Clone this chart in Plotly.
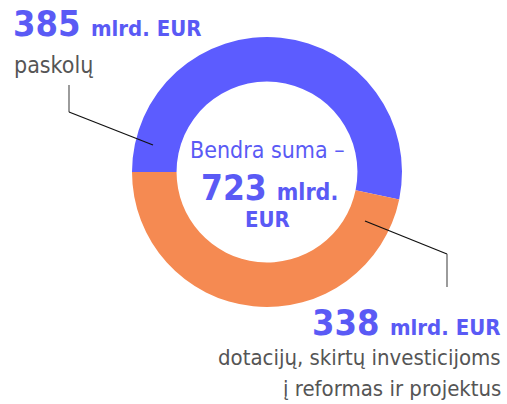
import plotly.graph_objects as go

# duomenys
labels = ["paskolų", "dotacijų, skirtų investicijoms į reformas ir projektus"]
values = [385, 338]
colors = ["#5C5CFF", "#F58A52"]
total = sum(values)

W, H = 507, 404
BLUE = "#5A5AF5"
GRAY = "#555555"
FONT = "Liberation Sans Narrow, DejaVu Sans Condensed, Roboto, sans-serif"


def px(x, y):
    # pikseliai -> paper koordinatės
    return x / W, 1 - y / H


fig = go.Figure(
    go.Pie(
        labels=labels,
        values=values,
        marker=dict(colors=colors, line=dict(width=0)),
        hole=0.67,
        sort=False,
        direction="clockwise",
        rotation=-90,
        textinfo="none",
        hoverinfo="label+value",
        showlegend=False,
        domain=dict(x=[132 / W, 402 / W], y=[97 / H, 367 / H]),
    )
)

annotations = []


def add_text(text, x, y, xanchor, size, color, align="left"):
    ax, ay = px(x, y)
    annotations.append(dict(
        text=text, x=ax, y=ay, xref="paper", yref="paper",
        xanchor=xanchor, yanchor="middle", showarrow=False, align=align,
        font=dict(family=FONT, size=size, color=color),
    ))


# viršuje kairėje
add_text(f"<b>{values[0]}</b> <b><span style='font-size:22px'>mlrd. EUR</span></b>",
         11, 36 - 0.35 * 36, "left", 36, BLUE)
add_text(labels[0], 12, 73 - 0.35 * 23, "left", 23, GRAY)

# apačioje dešinėje
add_text(f"<b>{values[1]}</b> <b><span style='font-size:22px'>mlrd. EUR</span></b>",
         503, 335 - 0.35 * 36, "right", 36, BLUE, "right")
add_text("dotacijų, skirtų investicijoms", 503, 365 - 0.35 * 22, "right", 22, GRAY, "right")
add_text("į reformas ir projektus", 503, 396 - 0.35 * 22, "right", 22, GRAY, "right")

# centras
add_text("Bendra suma –", 267, 158 - 0.35 * 23, "center", 23, BLUE, "center")
add_text(f"<b>{total}</b> <b><span style='font-size:23px'>mlrd.</span></b>",
         269, 200 - 0.35 * 35, "center", 35, BLUE, "center")
add_text("<b>EUR</b>", 267, 227 - 0.35 * 22, "center", 22, BLUE, "center")

# linijos prie segmentų
shapes = []


def seg(p1, p2, color):
    x0, y0 = px(*p1)
    x1, y1 = px(*p2)
    shapes.append(dict(type="line", xref="paper", yref="paper",
                       x0=x0, y0=y0, x1=x1, y1=y1,
                       line=dict(color=color, width=1.3)))


seg((69, 85), (69, 112), "#666666")
seg((69, 112), (153, 145), "#111111")
seg((365, 221), (447, 254), "#111111")
seg((447, 254), (447, 287), "#666666")

fig.update_layout(
    width=W, height=H,
    margin=dict(l=0, r=0, t=0, b=0),
    paper_bgcolor="white",
    plot_bgcolor="white",
    annotations=annotations,
    shapes=shapes,
)

# be numatytos body paraštės ir be modebar
fig.write_html("out.html", config={"displayModeBar": False},
               post_script="document.body.style.margin='0';")
